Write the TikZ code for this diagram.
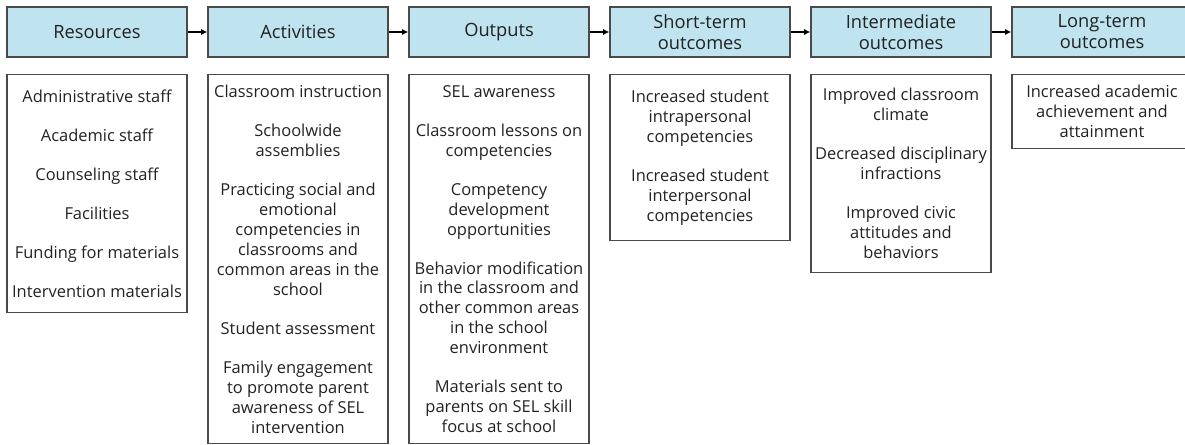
\documentclass[tikz,border=0pt]{standalone}
\usepackage{fontspec}
\setmainfont{Open Sans}
\usetikzlibrary{arrows.meta}
\definecolor{headblue}{HTML}{BFE3EF}
\definecolor{boxgray}{HTML}{4A4A4A}
\definecolor{inkgray}{HTML}{222222}
\tikzset{
	headbox/.style={draw=boxgray, line width=0.9pt, fill=headblue, minimum width=4.5cm,
		minimum height=1.25cm, align=center, inner sep=0pt, text=inkgray,
		font=\fontsize{13}{15}\selectfont},
	listbox/.style={draw=boxgray, line width=0.9pt, anchor=north, minimum width=4.5cm,
		align=center, inner sep=0pt, text=inkgray, font=\fontsize{11.7}{14.2}\selectfont},
	flow/.style={-{Latex[length=4.5pt,width=4.5pt]}, line width=0.9pt}
}
\newcommand{\nextitem}{\\[13.5pt]}

\begin{document}
\begin{tikzpicture}
	\useasboundingbox (0,0) rectangle (29.625,-11.125);

	\node[headbox] (h1) at (2.425,-0.8) {Resources};
	\node[headbox] (h2) at (7.45,-0.8) {Activities};
	\node[headbox] (h3) at (12.475,-0.8) {Outputs};
	\node[headbox] (h4) at (17.5,-0.8) {Short-term\\outcomes};
	\node[headbox] (h5) at (22.525,-0.8) {Intermediate\\outcomes};
	\node[headbox] (h6) at (27.55,-0.8) {Long-term\\outcomes};

	\node[listbox, minimum height=5.95cm] (b1) at (2.425,-1.85) {
		Administrative staff\nextitem
		Academic staff\nextitem
		Counseling staff\nextitem
		Facilities\nextitem
		Funding for materials\nextitem
		Intervention materials};
	\node[listbox, minimum height=9.225cm] (b2) at (7.45,-1.85) {
		Classroom instruction\nextitem
		Schoolwide\\assemblies\nextitem
		Practicing social and\\emotional\\competencies in\\classrooms and\\common areas in the\\school\nextitem
		Student assessment\nextitem
		Family engagement\\to promote parent\\awareness of SEL\\intervention};
	\node[listbox, minimum height=9.225cm] (b3) at (12.475,-1.85) {
		SEL awareness\nextitem
		Classroom lessons on\\competencies\nextitem
		Competency\\development\\opportunities\nextitem
		Behavior modification\\in the classroom and\\other common areas\\in the school\\environment\nextitem
		Materials sent to\\parents on SEL skill\\focus at school};
	\node[listbox, minimum height=4.15cm] (b4) at (17.5,-1.85) {
		Increased student\\intrapersonal\\competencies\nextitem
		Increased student\\interpersonal\\competencies};
	\node[listbox, minimum height=4.95cm] (b5) at (22.525,-1.85) {
		Improved classroom\\climate\nextitem
		Decreased disciplinary\\infractions\nextitem
		Improved civic\\attitudes and\\behaviors};
	\node[listbox, minimum height=1.85cm] (b6) at (27.55,-1.85) {
		Increased academic\\achievement and\\attainment};

	\foreach \i / \j in {1/2, 2/3, 3/4, 4/5, 5/6}
	{
		\draw[flow] (h\i) -- (h\j);
	};
\end{tikzpicture}
\end{document}
